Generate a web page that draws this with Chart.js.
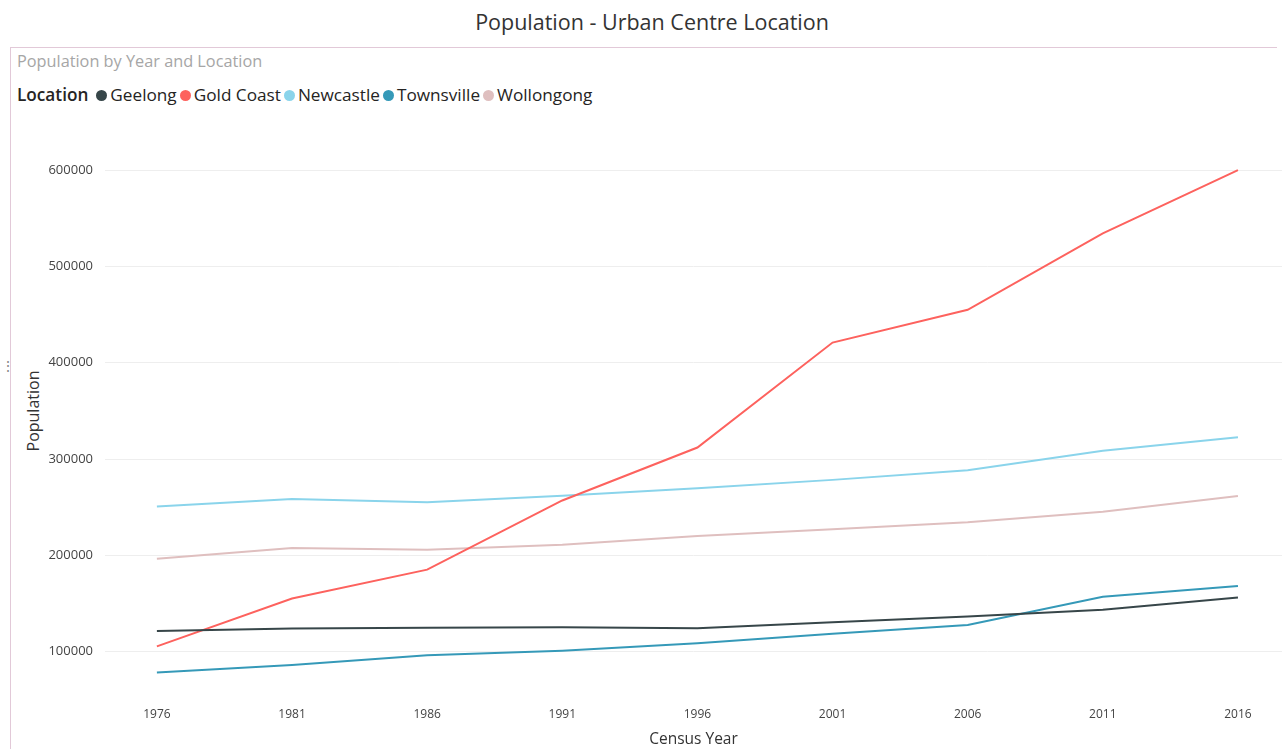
<!DOCTYPE html>
<html>
<head>
<meta charset="utf-8">
<script src="https://cdn.jsdelivr.net/npm/chart.js@4"></script>
<style>
  body { margin: 0; width: 1284px; height: 749px; overflow: hidden; background: #fff; font-family: "Open Sans", sans-serif; position: relative; }
  #title { position: absolute; top: 7px; left: 0; width: 1304px; text-align: center; font-size: 21.5px; color: #333; }
  #box { position: absolute; left: 10px; top: 47px; width: 1266px; height: 710px; border-left: 1px solid #e2c9d8; border-top: 1px solid #e2c9d8; }
  #sub { position: absolute; left: 17px; top: 50px; font-size: 16.3px; color: #a6a6a6; }
  #legend { position: absolute; left: 17px; top: 83px; font-size: 17.2px; color: #252423; white-space: nowrap; }
  #legend b { font-weight: 600; margin-right: 8px; }
  #legend span.item { margin-right: 3px; }
  #legend i { display: inline-block; width: 11px; height: 11px; border-radius: 50%; margin-right: 3px; vertical-align: 0px; }
  #dots { position: absolute; left: 1px; top: 356px; font-size: 14px; color: #888; }
  #ytitle { position: absolute; left: 33px; top: 411px; transform: translate(-50%, -50%) rotate(-90deg); font-size: 16px; color: #333; white-space: nowrap; }
  #wrap { position: absolute; left: 10px; top: 130px; width: 1274px; height: 619px; }
</style>
</head>
<body>
<div id="title">Population - Urban Centre Location</div>
<div id="box"></div>
<div id="sub">Population by Year and Location</div>
<div id="legend"></div>
<div id="dots">⋮</div>
<div id="ytitle">Population</div>
<div id="wrap"><canvas id="chart"></canvas></div>
<script>
// Census years and population per urban centre
const years = [1976, 1981, 1986, 1991, 1996, 2001, 2006, 2011, 2016];
const locations = ['Geelong', 'Gold Coast', 'Newcastle', 'Townsville', 'Wollongong'];
const colors = ['#374649', '#FD625E', '#8AD4EB', '#3599B8', '#DFBFBF'];

const geelong    = [121500, 124100, 124800, 125300, 124300, 130500, 136500, 143500, 156300];
const goldCoast  = [105500, 155200, 185200, 257000, 312000, 421000, 455000, 534500, 600000];
const newcastle  = [250700, 258600, 255200, 262000, 269700, 278400, 288500, 308700, 322600];
const townsville = [78300, 86200, 96200, 101000, 108700, 118500, 127800, 157000, 168200];
const wollongong = [196600, 207600, 205900, 211000, 220000, 227000, 234500, 245400, 261700];

const yTicks = [100000, 200000, 300000, 400000, 500000, 600000];

const series = [geelong, goldCoast, newcastle, townsville, wollongong];

// Legend
document.getElementById('legend').innerHTML = '<b>Location</b>' + locations.map((name, i) =>
  `<span class="item"><i style="background:${colors[i]}"></i>${name}</span>`
).join('');

new Chart(document.getElementById('chart'), {
  type: 'line',
  data: {
    datasets: series.map((vals, i) => ({
      label: locations[i],
      data: vals.map((v, j) => ({ x: years[j], y: v })),
      borderColor: colors[i],
      backgroundColor: colors[i],
      borderWidth: 2,
      pointRadius: 0,
      tension: 0,
      fill: false
    }))
  },
  options: {
    responsive: true,
    maintainAspectRatio: false,
    animation: false,
    layout: { padding: { top: 3, right: 2, left: 0, bottom: 0 } },
    plugins: { legend: { display: false }, tooltip: { enabled: false } },
    scales: {
      x: {
        type: 'linear',
        min: 1974.08,
        max: 2017.63,
        afterBuildTicks: s => { s.ticks = years.map(v => ({ value: v })); },
        afterFit: s => { s.height = 50; },
        grid: { display: false, drawTicks: false },
        border: { display: false },
        ticks: { color: '#444', font: { family: 'Open Sans', size: 12 }, padding: 8, autoSkip: false, maxRotation: 0, callback: v => String(v) },
        title: { display: true, text: 'Census Year', color: '#333', font: { family: 'Open Sans', size: 15.5 }, padding: { top: 0, bottom: 0 } }
      },
      y: {
        min: 50830,
        max: 621200,
        afterBuildTicks: s => { s.ticks = yTicks.map(v => ({ value: v })); },
        afterFit: s => { s.width = 95; },
        grid: { color: '#eeeeee', lineWidth: 1, drawTicks: false },
        border: { display: false },
        ticks: { color: '#444', font: { family: 'Open Sans', size: 13 }, padding: 12, callback: v => String(v) }
      }
    }
  }
});
</script>
</body>
</html>
